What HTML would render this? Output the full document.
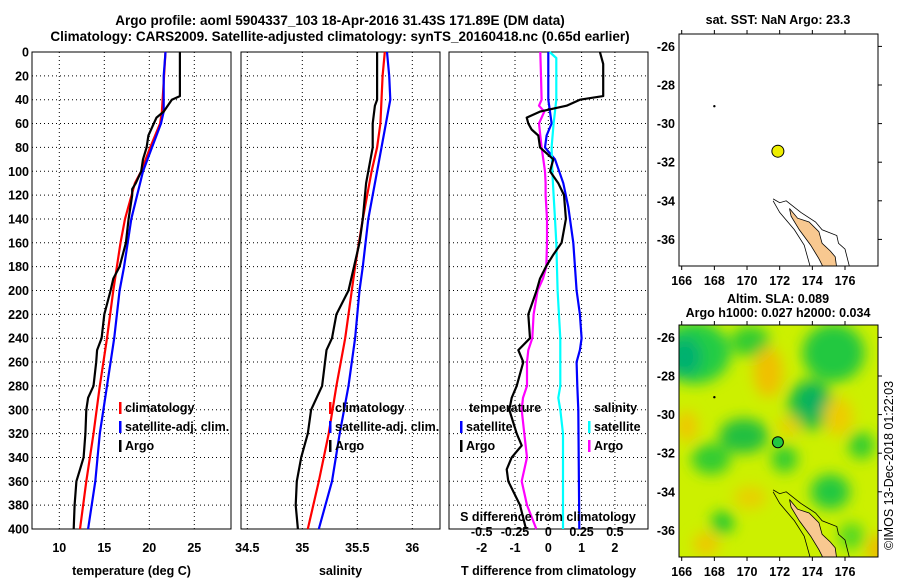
<!DOCTYPE html>
<html><head><meta charset="utf-8"><style>
body{margin:0;background:#fff}
svg{display:block;font-family:"Liberation Sans",sans-serif;font-weight:bold}
text{font-size:12.5px;fill:#000}
</style></head><body>
<svg id="c" width="900" height="580" viewBox="0 0 900 580" xmlns="http://www.w3.org/2000/svg">
<defs><filter id="bl" x="-50%" y="-50%" width="200%" height="200%"><feGaussianBlur stdDeviation="7"/></filter>
<clipPath id="mc2"><rect x="679" y="325" width="199" height="232"/></clipPath>
<clipPath id="mc1"><rect x="679" y="34" width="199" height="232"/></clipPath></defs>
<text x="340" y="25" text-anchor="middle" style="font-size:13.5px">Argo profile: aoml 5904337_103 18-Apr-2016 31.43S 171.89E (DM data)</text>
<text x="340" y="41" text-anchor="middle" style="font-size:13.5px">Climatology: CARS2009. Satellite-adjusted climatology: synTS_20160418.nc (0.65d earlier)</text>
<text x="778" y="24" text-anchor="middle">sat. SST: NaN Argo: 23.3</text>
<text x="778" y="303" text-anchor="middle">Altim. SLA: 0.089</text>
<text x="778" y="317" text-anchor="middle">Argo h1000: 0.027 h2000: 0.034</text>
<text transform="translate(893,550) rotate(-90)" style="font-weight:normal;font-size:12.5px">©IMOS 13-Dec-2018 01:22:03</text>
<g id="g"></g>
</svg>
<script>
// ---- data: depth (m) and values ----
const depthTicks=[0,20,40,60,80,100,120,140,160,180,200,220,240,260,280,300,320,340,360,380,400];
const tArgoD=[0,37,40,50,55,60,70,80,90,100,110,115,120,140,160,180,190,200,220,240,250,260,280,290,300,320,340,350,360,380,400];
const tArgo=[23.4,23.4,22.5,21.6,20.8,20.5,19.9,19.7,19.3,19.1,18.5,18.1,18.1,17.7,17.4,16.7,16.0,15.7,15.0,14.7,14.2,14.1,13.8,13.2,13.0,12.9,12.7,12.3,11.9,11.7,11.6];
const tClimD=[0,50,60,80,100,110,140,160,180,200,240,280,320,360,400];
const tClim=[21.8,21.4,21.2,20.1,19.1,18.4,17.3,16.8,16.4,16.0,15.3,14.5,13.8,13.0,12.3];
const tSatD=[0,20,50,60,80,100,140,180,200,240,280,320,360,400];
const tSat=[21.8,21.6,21.6,21.3,20.3,19.3,18.0,17.2,16.7,16.1,15.3,14.5,14.0,13.2];
const sArgoD=[0,40,45,60,80,90,110,140,160,180,200,220,240,250,280,300,320,340,360,380,400];
const sArgo=[35.68,35.68,35.66,35.64,35.64,35.62,35.58,35.55,35.52,35.47,35.42,35.31,35.27,35.22,35.18,35.08,35.05,34.99,34.95,34.94,34.96];
const sClimD=[0,20,40,60,80,100,140,180,200,240,280,320,360,400];
const sClim=[35.75,35.73,35.72,35.71,35.68,35.63,35.55,35.48,35.45,35.39,35.31,35.24,35.15,35.05];
const sSatD=[0,20,40,55,80,100,140,180,200,240,280,320,360,400];
const sSat=[35.77,35.79,35.80,35.77,35.72,35.68,35.60,35.55,35.52,35.48,35.42,35.34,35.27,35.15];
const dTArgoD=[0,10,37,40,45,50,55,60,65,70,80,90,100,110,120,140,160,170,180,190,200,220,240,250,260,280,290,300,320,330,340,350,360,380,400];
const dTArgo=[1.55,1.65,1.65,0.95,0.55,-0.25,-0.65,-0.6,-0.5,-0.3,-0.25,0.15,0.05,0.3,0.47,0.53,0.4,0.15,-0.07,-0.25,-0.35,-0.6,-0.55,-0.9,-0.75,-0.95,-1.1,-1.17,-0.95,-0.8,-1.1,-1.25,-1.2,-0.85,-0.67];
const dTSatD=[0,20,40,50,60,70,80,90,110,130,160,200,220,240,250,260,280,300,400];
const dTSat=[0,0,0,0.05,0.1,-0.05,-0.1,0.2,0.45,0.6,0.75,0.85,0.95,1.0,0.95,0.85,0.87,0.9,0.93];
const dSSatD=[0,5,40,60,80,100,120,140,160,200,240,280,290,300,320,400];
const dSSat=[0.01,0.06,0.06,0.04,0.025,0.03,0.04,0.05,0.06,0.07,0.09,0.09,0.075,0.09,0.11,0.11];
const dSArgoD=[0,20,40,45,50,60,70,80,100,110,120,140,160,180,190,200,220,240,250,260,280,290,300,320,340,360,380,400];
const dSArgo=[-0.06,-0.055,-0.05,-0.07,-0.03,-0.07,-0.06,-0.05,-0.025,-0.02,-0.02,-0.01,-0.01,-0.015,-0.04,-0.08,-0.11,-0.12,-0.15,-0.16,-0.16,-0.19,-0.2,-0.18,-0.16,-0.2,-0.16,-0.09];
const tTicks=[10,15,20,25];
const sTicks=[34.5,35,35.5,36];
const dTicks=[-2,-1,0,1,2];
const dSTicks=[-0.5,-0.25,0,0.25,0.5];
const lonTicks=[166,168,170,172,174,176];
const latTicks=[-26,-28,-30,-32,-34,-36];
const argoPos=[171.89,-31.43];
// decorative SLA field blobs [lon,lat,rx(deg),ry(deg),colour]
const slaBlobs=[[166.8,-26.8,2.2,1.6,'#22cc44'],[166.2,-27,1,1,'#00b070'],[170.2,-26.2,1.2,0.8,'#33cc33'],[175.3,-26.8,1.9,1.5,'#22c840'],
[173.9,-29.5,1.4,1.3,'#22c040'],[174,-29.3,0.8,0.8,'#00b060'],[169.8,-31.1,1.5,0.9,'#22c040'],[167.8,-32.3,1.2,0.8,'#33cc33'],
[172.3,-32.3,0.8,0.7,'#33cc33'],[177,-31.6,0.8,0.7,'#33cc33'],[175.1,-34,1.2,0.9,'#22c840'],[168.5,-35.6,0.7,0.6,'#22c830'],
[176.4,-36.3,0.8,0.7,'#55d820'],[171.3,-27.8,0.9,1.3,'#f0c000'],[166.3,-30.6,0.7,0.8,'#eec800'],[175.6,-30.1,0.9,1,'#eecc00'],
[178,-37,0.6,0.8,'#f0b800'],[167.5,-36.7,0.8,0.6,'#eec800'],[170.2,-34.3,1,0.6,'#e8d000'],[172.6,-30.6,0.7,0.5,'#e8d000']];
const land=[[172.6,-34.4],[173.1,-34.9],[173.8,-35.1],[174.4,-35.6],[174.6,-36.2],[175.1,-36.6],[175.4,-36.9],[175.5,-37.5],[174.7,-37.5],[174.4,-37.0],[173.9,-36.3],[173.2,-35.5],[172.7,-34.8]];
const contourE=[[171.6,-33.9],[172.0,-34.1],[172.4,-34.0],[173.3,-34.6],[174.2,-35.1],[174.6,-35.5],[175.5,-35.8],[175.6,-36.2],[176.0,-36.5],[176.3,-37.5]];
const contourW=[[171.6,-34.0],[172.0,-34.6],[172.9,-35.5],[173.5,-36.3],[173.9,-37.5]];

const NS='http://www.w3.org/2000/svg',G=document.getElementById('g');
function mk(t,a,p){const e=document.createElementNS(NS,t);for(const k in a)e.setAttribute(k,a[k]);(p||G).appendChild(e);return e;}
const Y0=52,Y1=529;
const yD=d=>Y0+d*(Y1-Y0)/400;
const xT=v=>59.3+(v-10)*9;
const xS=v=>302.3+(v-35)*110;
const xDT=v=>548.3+v*33.3;
const xDS=v=>548.3+v*133.2;
function panel(name,x0,x1,ticks,xf,fmt,title){
  const f=mk('rect',{x:x0,y:Y0,width:x1-x0,height:Y1-Y0,fill:'none',stroke:'#000','stroke-width':1});
  
  
  depthTicks.forEach(d=>{if(d>0&&d<400){const l=mk('line',{x1:x0,x2:x1,y1:yD(d),y2:yD(d),stroke:'#000','stroke-dasharray':'1,3','stroke-width':1});
  
  }});
  ticks.forEach(v=>{const x=xf(v);if(x>x0+2&&x<x1-2){const l=mk('line',{x1:x,x2:x,y1:Y0,y2:Y1,stroke:'#000','stroke-dasharray':'1,3','stroke-width':1});
  
  }
  const t=mk('text',{x:x,y:552,'text-anchor':'middle'});t.textContent=fmt(v);
  
  });
  const tt=mk('text',{x:(x0+x1)/2,y:575,'text-anchor':'middle'});tt.textContent=title;
  
  
}
function line(name,ds,vs,xf,col,x0,x1){
  const pts=ds.map((d,i)=>Math.max(x0,Math.min(x1,xf(vs[i]))).toFixed(1)+','+yD(d).toFixed(1)).join(' ');
  const p=mk('polyline',{points:pts,fill:'none',stroke:col,'stroke-width':2.2,'stroke-linejoin':'round'});
  
  
}
function legend(x,y,items){items.forEach((it,i)=>{const yy=y+i*19;
  const r=mk('rect',{x:x,y:yy-10,width:2.5,height:12,fill:it[1]});
  
  
  const t=mk('text',{x:x+6,y:yy});t.textContent=it[0];
  
  });}
// depth labels
depthTicks.forEach(d=>{const t=mk('text',{x:29,y:yD(d)+4.5,'text-anchor':'end'});t.textContent=d;
  
  });
panel('temperature-panel',32,231,tTicks,xT,v=>v,'temperature (deg C)');
panel('salinity-panel',241,440,sTicks,xS,v=>v,'salinity');
panel('difference-panel',449,648,dTicks,xDT,v=>v,'T difference from climatology');
line('temp-climatology-line',tClimD,tClim,xT,'#f00',32,231);
line('temp-satellite-line',tSatD,tSat,xT,'#00f',32,231);
line('temp-argo-line',tArgoD,tArgo,xT,'#000',32,231);
line('sal-climatology-line',sClimD,sClim,xS,'#f00',241,440);
line('sal-satellite-line',sSatD,sSat,xS,'#00f',241,440);
line('sal-argo-line',sArgoD,sArgo,xS,'#000',241,440);
line('dT-satellite-line',dTSatD,dTSat,xDT,'#00f',449,648);
line('dS-satellite-line',dSSatD,dSSat,xDS,'#0ff',449,648);
line('dS-argo-line',dSArgoD,dSArgo,xDS,'#f0f',449,648);
line('dT-argo-line',dTArgoD,dTArgo,xDT,'#000',449,648);
legend(119,412,[['climatology','#f00'],['satellite-adj. clim.','#00f'],['Argo','#000']]);
legend(329,412,[['climatology','#f00'],['satellite-adj. clim.','#00f'],['Argo','#000']]);
{const t=mk('text',{x:469,y:412});t.textContent='temperature';


const s=mk('text',{x:594,y:412});s.textContent='salinity';

}
legend(460,431,[['satellite','#00f'],['Argo','#000']]);
legend(588,431,[['satellite','#0ff'],['Argo','#f0f']]);
{const t=mk('text',{x:548,y:521,'text-anchor':'middle'});t.textContent='S difference from climatology';

}
dSTicks.forEach(v=>{const t=mk('text',{x:xDS(v),y:536,'text-anchor':'middle'});t.textContent=v;
  
  });
// maps
function map(name,top,clip,colored){
  const lx=v=>681.7+(v-166)*16.33, ly=v=>top+(-26-v)*19.3+12.4;
  const g=mk('g',{'clip-path':'url(#'+clip+')'});
  
  
  if(colored){mk('rect',{x:679,y:top,width:199,height:232,fill:'#ccf000'},g);
    const bg=mk('g',{filter:'url(#bl)'},g);
    slaBlobs.forEach(b=>{const e=mk('ellipse',{cx:lx(b[0]),cy:ly(b[1]),rx:b[2]*16.3,ry:b[3]*19.3,fill:b[4]},bg);
    
    });}
  const P=a=>a.map(p=>lx(p[0]).toFixed(1)+','+ly(p[1]).toFixed(1)).join(' ');
  const ld=mk('polygon',{points:P(land),fill:'#f8c890',stroke:'#000','stroke-width':0.8},g);
  
  
  [contourE,contourW].forEach(c=>{const l=mk('polyline',{points:P(c),fill:'none',stroke:'#000','stroke-width':0.8},g);
  
  });
  const m=mk('circle',{cx:lx(168),cy:ly(-29.1),r:1.2,fill:'#000'},g);
  
  
  const a=mk('circle',{cx:lx(argoPos[0]),cy:ly(argoPos[1]),r:colored?5.5:6,fill:colored?'#22c840':'#eeee00',stroke:'#000','stroke-width':1},g);
  
  
  const f=mk('rect',{x:679,y:top,width:199,height:232,fill:'none',stroke:'#000','stroke-width':1});
  
  
  lonTicks.forEach(v=>{mk('line',{x1:lx(v),x2:lx(v),y1:top,y2:top-4,stroke:'#000'});mk('line',{x1:lx(v),x2:lx(v),y1:top+232,y2:top+236,stroke:'#000'});
    const t=mk('text',{x:lx(v),y:top+251,'text-anchor':'middle'});t.textContent=v;
    
    });
  latTicks.forEach(v=>{mk('line',{x1:878,x2:882,y1:ly(v),y2:ly(v),stroke:'#000'});
    const t=mk('text',{x:675,y:ly(v)+4.5,'text-anchor':'end'});t.textContent=v;
    
    });
}
map('sst-map',34,'mc1',false);
map('sla-map',325,'mc2',true);
</script>
</body></html>
